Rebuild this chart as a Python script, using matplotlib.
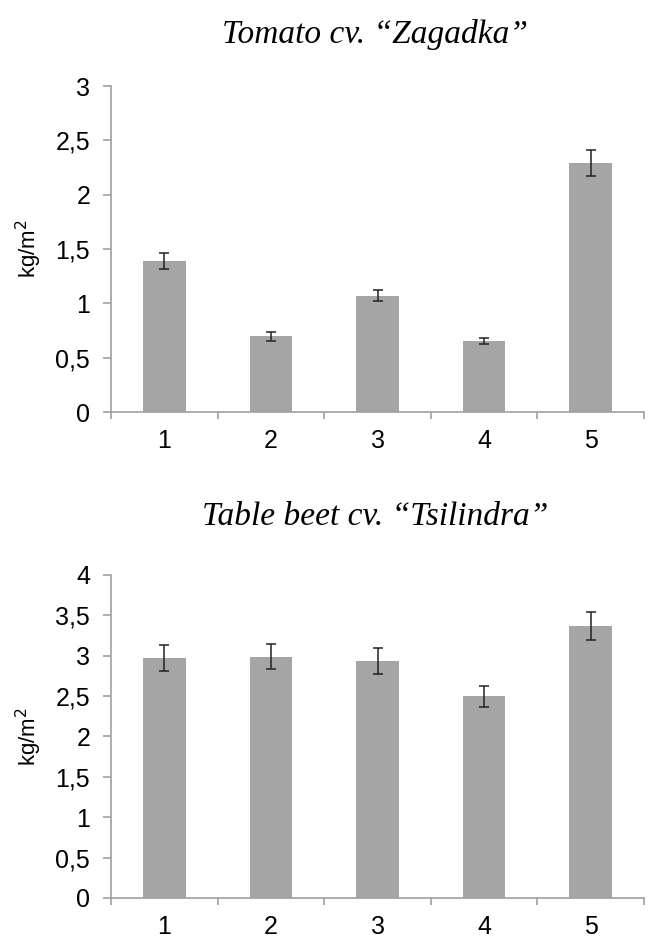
import matplotlib
matplotlib.use("Agg")
import matplotlib.pyplot as plt
import numpy as np

# treatments on x axis
treatments = ["1", "2", "3", "4", "5"]

tomato_title = "Tomato cv. \u201cZagadka\u201d"
tomato_yield = [1.39, 0.695, 1.07, 0.655, 2.295]
tomato_err = [0.075, 0.04, 0.05, 0.03, 0.12]
tomato_ticks = [0, 0.5, 1, 1.5, 2, 2.5, 3]

beet_title = "Table beet cv. \u201cTsilindra\u201d"
beet_yield = [2.97, 2.99, 2.94, 2.50, 3.37]
beet_err = [0.16, 0.155, 0.16, 0.13, 0.175]
beet_ticks = [0, 0.5, 1, 1.5, 2, 2.5, 3, 3.5, 4]

plt.rcParams['font.family'] = ['Liberation Sans', 'DejaVu Sans']

fig = plt.figure(figsize=(6.5, 9.4), dpi=100)
ax1 = fig.add_axes([0.1708, 0.5617, 0.82, 0.3468])
ax2 = fig.add_axes([0.1708, 0.0447, 0.82, 0.3436])

axis_col = "#a0a0a0"


def fmt(v):
    s = ("%g" % v).replace(".", ",")
    return s


def draw(ax, vals, errs, ticks, title, title_y):
    x = np.arange(len(treatments))
    ax.bar(x, vals, width=0.4, color="#a5a5a5", zorder=2)
    ax.errorbar(x, vals, yerr=errs, fmt="none", ecolor="#222222",
                elinewidth=1.1, capsize=3.5, capthick=1.1, zorder=3)
    ax.set_xlim(-0.5, len(treatments) - 0.5)
    ax.set_ylim(0, ticks[-1])
    ax.set_yticks(ticks)
    ax.set_yticklabels([fmt(t) for t in ticks], fontsize=18)
    ax.set_xticks(x)
    ax.set_xticklabels(treatments, fontsize=18)
    # boundary ticks between categories
    ax.set_xticks(np.arange(-0.5, len(treatments)), minor=True)
    ax.tick_params(axis="x", which="major", length=0, pad=12)
    ax.tick_params(axis="x", which="minor", length=5, color=axis_col, width=1.2)
    ax.tick_params(axis="y", length=6, color=axis_col, width=1.2, pad=9)
    for s in ["top", "right"]:
        ax.spines[s].set_visible(False)
    for s in ["left", "bottom"]:
        ax.spines[s].set_color(axis_col)
        ax.spines[s].set_linewidth(1.2)
    ax.set_ylabel("kg/m$^2$", fontsize=16, labelpad=8)
    fig.text(0.577, title_y, title, ha="center", va="center",
             fontsize=24, style="italic", family="Liberation Serif")


draw(ax1, tomato_yield, tomato_err, tomato_ticks, tomato_title, 1 - 35 / 940)
draw(ax2, beet_yield, beet_err, beet_ticks, beet_title, 1 - 517 / 940)

fig.savefig("out.png", dpi=100)
